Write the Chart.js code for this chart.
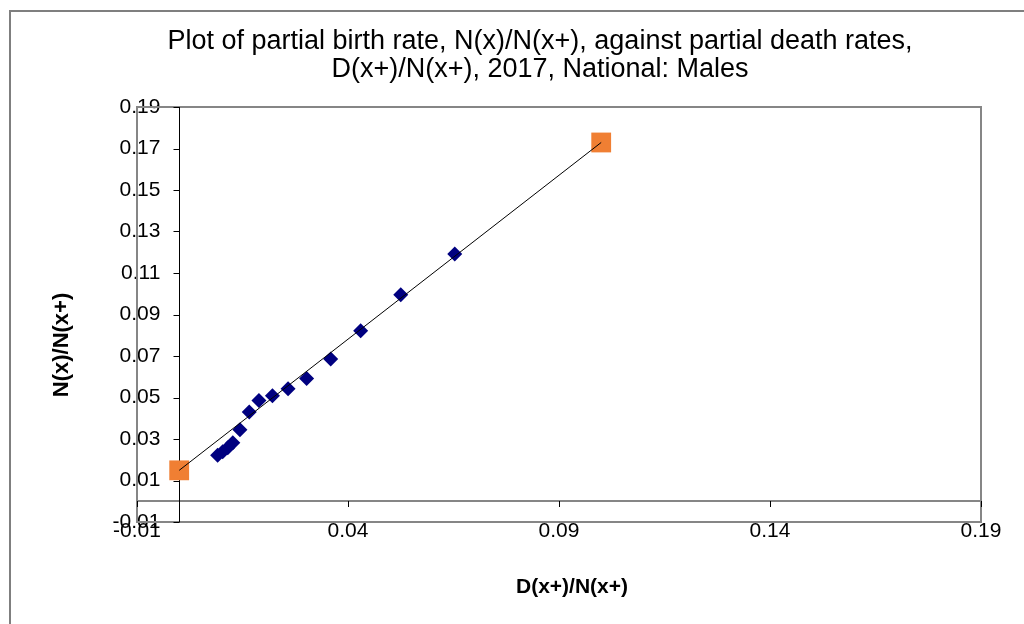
<!DOCTYPE html>
<html>
<head>
<meta charset="utf-8">
<script src="https://cdn.jsdelivr.net/npm/chart.js@4.4.0/dist/chart.umd.min.js"></script>
<style>
  body { margin: 0; background: #fff; }
</style>
</head>
<body>
<canvas id="grafico-taxas" width="1024" height="624"></canvas>
<script>
// valores: D(x+)/N(x+) no eixo x, N(x)/N(x+) no eixo y
const taxaMorte = [0.0091, 0.0103, 0.0115, 0.0127, 0.0144, 0.0166, 0.0189, 0.0221, 0.0258, 0.0302, 0.0359, 0.0430, 0.0525, 0.0653];
const taxaNasc  = [0.0222, 0.0239, 0.0258, 0.0282, 0.0345, 0.0430, 0.0485, 0.0509, 0.0542, 0.0591, 0.0686, 0.0822, 0.0995, 0.1191];
// extremos da reta ajustada (quadrados laranja)
const retaX = [0, 0.1];
const retaY = [0.0149, 0.1729];
// marcas dos eixos
const ticksX = [-0.01, 0.04, 0.09, 0.14, 0.19];
const ticksY = [-0.01, 0.01, 0.03, 0.05, 0.07, 0.09, 0.11, 0.13, 0.15, 0.17, 0.19];

const fonte = "'Liberation Sans', Arial, sans-serif";
const grafico = document.getElementById("grafico-taxas");

const pontos = taxaMorte.map((v, i) => ({ x: v, y: taxaNasc[i] }));
const reta = retaX.map((v, i) => ({ x: v, y: retaY[i] }));

// desenha moldura, eixos cruzando no zero e titulos dos eixos (estilo excel)
const eixosExcel = {
  id: "eixosExcel",
  beforeDraw(chart) {
    const ctx = chart.ctx;
    ctx.save();
    ctx.fillStyle = "#fff";
    ctx.fillRect(0, 0, chart.width, chart.height);
    ctx.strokeStyle = "#7f7f7f";
    ctx.lineWidth = 2;
    ctx.strokeRect(10, 11, 1100, 700);
    ctx.restore();
  },
  beforeDatasetsDraw(chart) {
    const { ctx, chartArea: a, scales: { x, y } } = chart;
    const x0 = Math.round(x.getPixelForValue(0)) + 0.5;
    const y0 = Math.round(y.getPixelForValue(0));
    ctx.save();
    // borda da area do grafico
    ctx.strokeStyle = "#868686";
    ctx.lineWidth = 2;
    ctx.strokeRect(a.left, a.top, a.width, a.height);
    // eixo x no zero
    ctx.beginPath();
    ctx.moveTo(a.left, y0);
    ctx.lineTo(a.right, y0);
    ctx.stroke();
    ctx.strokeStyle = "#000";
    ctx.lineWidth = 1;
    x.ticks.forEach(t => {
      const px = Math.round(x.getPixelForValue(t.value)) + 0.5;
      ctx.beginPath();
      ctx.moveTo(px, y0);
      ctx.lineTo(px, y0 + 6);
      ctx.stroke();
    });
    // eixo y no zero
    ctx.beginPath();
    ctx.moveTo(x0, a.top);
    ctx.lineTo(x0, a.bottom);
    ctx.stroke();
    y.ticks.forEach(t => {
      const py = Math.round(y.getPixelForValue(t.value)) + 0.5;
      ctx.beginPath();
      ctx.moveTo(x0 - 6, py);
      ctx.lineTo(x0, py);
      ctx.stroke();
    });
    ctx.restore();
  },
  afterDraw(chart) {
    const ctx = chart.ctx;
    ctx.save();
    ctx.fillStyle = "#000";
    ctx.textAlign = "center";
    ctx.textBaseline = "middle";
    ctx.font = "bold 21px " + fonte;
    ctx.fillText("D(x+)/N(x+)", 572, 587);
    ctx.font = "bold 22px " + fonte;
    ctx.translate(62, 345);
    ctx.rotate(-Math.PI / 2);
    ctx.fillText("N(x)/N(x+)", 0, 0);
    ctx.restore();
  }
};

new Chart(grafico, {
  type: "scatter",
  data: {
    datasets: [
      {
        type: "line",
        label: "Reta",
        data: reta,
        borderColor: "#000",
        borderWidth: 1,
        pointRadius: 0,
        fill: false,
        order: 0
      },
      {
        label: "N(x)/N(x+)",
        data: pontos,
        pointStyle: "rectRot",
        pointRadius: 7.5,
        backgroundColor: "#000080",
        borderColor: "#000080",
        borderWidth: 0,
        order: 1
      },
      {
        label: "Extremos",
        data: reta,
        pointStyle: "rect",
        pointRadius: 14,
        backgroundColor: "#f07f33",
        borderWidth: 0,
        order: 2
      }
    ]
  },
  options: {
    responsive: false,
    animation: false,
    devicePixelRatio: 1,
    layout: { padding: { left: 99, right: 43, top: 0, bottom: 0 } },
    plugins: {
      legend: { display: false },
      tooltip: { enabled: false },
      title: {
        display: true,
        text: ["Plot of partial birth rate, N(x)/N(x+), against partial death rates,", "D(x+)/N(x+), 2017, National: Males"],
        color: "#000",
        font: { family: fonte, size: 27, weight: "normal", lineHeight: 28 / 27 },
        padding: { top: 28, bottom: 23 }
      }
    },
    scales: {
      x: {
        type: "linear",
        min: -0.01,
        max: 0.19,
        afterBuildTicks: s => { s.ticks = ticksX.map(v => ({ value: v })); },
        afterFit: s => { s.height = 102; },
        grid: { display: false, drawTicks: false },
        border: { display: false },
        ticks: { mirror: true, padding: -22, color: "#000", font: { family: fonte, size: 21 }, maxRotation: 0, autoSkip: false, callback: v => v.toFixed(2) }
      },
      y: {
        type: "linear",
        min: -0.01,
        max: 0.19,
        afterBuildTicks: s => { s.ticks = ticksY.map(v => ({ value: v })); },
        afterFit: s => { s.width = 38; },
        grid: { display: false, drawTicks: false },
        border: { display: false },
        ticks: { mirror: true, crossAlign: "far", padding: -24.5, color: "#000", font: { family: fonte, size: 21 }, autoSkip: false, callback: v => v.toFixed(2) }
      }
    }
  },
  plugins: [eixosExcel]
});
</script>
</body>
</html>
